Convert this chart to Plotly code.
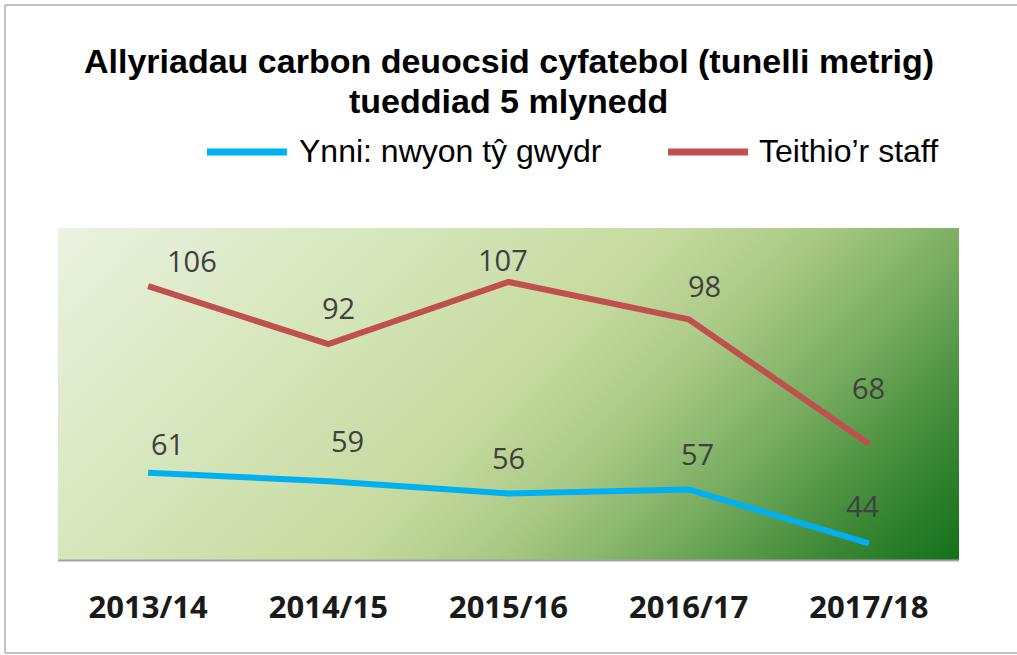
import base64
import plotly.graph_objects as go

# ---------------- data ----------------
years = ["2013/14", "2014/15", "2015/16", "2016/17", "2017/18"]
energy = [61, 59, 56, 57, 44]          # Ynni: nwyon tŷ gwydr
travel = [106, 92, 107, 98, 68]        # Teithio'r staff
energy_name = "Ynni: nwyon tŷ gwydr"
travel_name = "Teithio’r staff"
title_lines = ["Allyriadau carbon deuocsid cyfatebol (tunelli metrig)",
               "tueddiad 5 mlynedd"]

# ---------------- style ----------------
W, H = 1017, 655
ML, MR, MT, MB = 58, 58, 228, 95
PW, PH = W - ML - MR, H - MT - MB
BLUE = "#00b0f0"
RED = "#c0504d"
LABEL_COLOR = "#404040"
# label offsets (pixels) relative to each point
travel_dx = [44, 10, -6, 16, 0]
travel_dy = [26, 37, 22, 34, 56]
energy_dx = [19, 19, 0, 9, -6]
energy_dy = [29, 41, 36, 36, 38]


def px(x):
    return (x - ML) / PW


def py(y):
    return (MT + PH - y) / PH


# gradient background as inline SVG
D = (PW + PH) / 2
stops = [(0.0, "#ebf2e1"), (0.28, "#d6e6bb"), (0.5, "#c6da9f"),
         (0.62, "#a9c985"), (0.75, "#77ac5f"), (0.88, "#3f8a38"), (1.0, "#12701a")]
stop_svg = "".join(f'<stop offset="{o}" stop-color="{c}"/>' for o, c in stops)
svg = (f'<svg xmlns="http://www.w3.org/2000/svg" width="{PW}" height="{PH}" '
       f'viewBox="0 0 {PW} {PH}" preserveAspectRatio="none"><defs>'
       f'<linearGradient id="g" gradientUnits="userSpaceOnUse" x1="0" y1="0" x2="{D}" y2="{D}">'
       f'{stop_svg}</linearGradient></defs>'
       f'<rect width="{PW}" height="{PH}" fill="url(#g)"/></svg>')
svg_uri = "data:image/svg+xml;base64," + base64.b64encode(svg.encode()).decode()

fig = go.Figure()
fig.add_trace(go.Scatter(x=years, y=travel, mode="lines", name=travel_name,
                         line=dict(color=RED, width=6), hoverinfo="x+y"))
fig.add_trace(go.Scatter(x=years, y=energy, mode="lines", name=energy_name,
                         line=dict(color=BLUE, width=6), hoverinfo="x+y"))

annotations = []
for vals, dxs, dys in ((travel, travel_dx, travel_dy), (energy, energy_dx, energy_dy)):
    for cat, v, dx, dy in zip(years, vals, dxs, dys):
        annotations.append(dict(x=cat, y=v, xref="x", yref="y", text=str(v),
                                showarrow=False, xshift=dx, yshift=dy,
                                font=dict(family="Open Sans", size=29, color=LABEL_COLOR)))

# title
for text, yc in zip(title_lines, (61, 101)):
    annotations.append(dict(x=0.5, y=py(yc), xref="paper", yref="paper", text=f"<b>{text}</b>",
                            showarrow=False, xanchor="center", yanchor="middle",
                            font=dict(family="Liberation Sans, Arial", size=34, color="#000000")))

# legend (manual)
legend_items = [(energy_name, BLUE, 207, 287, 297), (travel_name, RED, 668, 748, 757)]
shapes = []
for name, col, x0, x1, tx in legend_items:
    shapes.append(dict(type="line", xref="paper", yref="paper", x0=px(x0), x1=px(x1),
                       y0=py(152), y1=py(152), line=dict(color=col, width=7)))
    annotations.append(dict(x=px(tx), y=py(151), xref="paper", yref="paper", text=name,
                            showarrow=False, xanchor="left", yanchor="middle",
                            font=dict(family="Liberation Sans, Arial", size=32, color="#000000")))

# plot-area bottom shadow
shapes.append(dict(type="line", xref="paper", yref="paper", x0=0, x1=1, y0=py(560.5), y1=py(560.5),
                   line=dict(color="#a5a5a5", width=2)))
# outer frame (left, top, bottom)
shapes.append(dict(type="line", xref="paper", yref="paper", x0=px(5), x1=px(5),
                   y0=py(653), y1=py(5), line=dict(color="#b0b0b0", width=1.5), layer="below"))
shapes.append(dict(type="line", xref="paper", yref="paper", x0=px(5), x1=px(1017),
                   y0=py(5), y1=py(5), line=dict(color="#b0b0b0", width=1.5), layer="below"))
shapes.append(dict(type="line", xref="paper", yref="paper", x0=px(5), x1=px(1017),
                   y0=py(653), y1=py(653), line=dict(color="#b0b0b0", width=1.5), layer="below"))

fig.update_layout(
    width=W, height=H,
    margin=dict(l=ML, r=MR, t=MT, b=MB),
    paper_bgcolor="white", plot_bgcolor="rgba(0,0,0,0)",
    showlegend=False,
    images=[dict(source=svg_uri, xref="paper", yref="paper", x=0, y=1, sizex=1, sizey=1,
                 xanchor="left", yanchor="top", sizing="stretch", layer="below")],
    xaxis=dict(type="category", range=[-0.5, 4.5], showgrid=False, zeroline=False,
               showline=False, ticks="", ticklabelstandoff=26,
               tickfont=dict(family="Open Sans", size=31, color="#1a1a1a", weight="bold")),
    yaxis=dict(range=[40, 120], visible=False),
    annotations=annotations,
    shapes=shapes,
)

fig.write_html("out.html", config={"displayModeBar": False},
               post_script="document.body.style.margin='0';")
